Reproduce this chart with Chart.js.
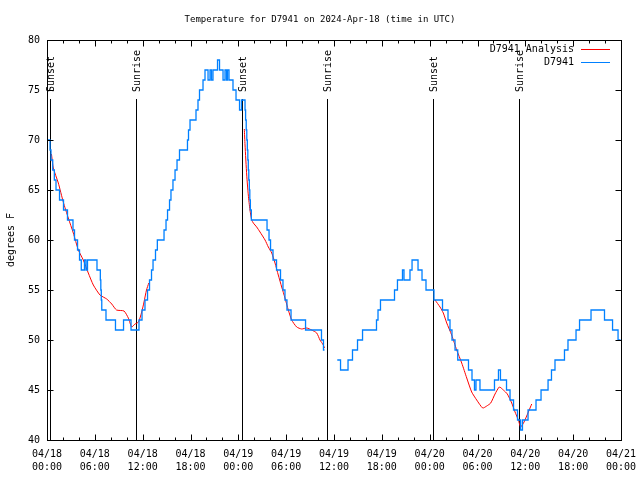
<!DOCTYPE html>
<html>
<head>
<meta charset="utf-8">
<title>Temperature for D7941</title>
<script src="https://cdn.jsdelivr.net/npm/chart.js@4.4.1/dist/chart.umd.min.js"></script>
<style>
    html, body { margin: 0; padding: 0; background: #fff; }
    #chart-temp { display: block; }
</style>
</head>
<body>
<canvas id="chart-temp" width="640" height="480"></canvas>
<script>
// All times are hours since 04/18 00:00 UTC
const stationHours = [
    0.00, 0.38, 0.50, 0.72, 0.92, 1.13, 1.57, 2.07, 2.57, 3.26, 3.45, 3.83, 4.08, 4.30, 4.70, 4.89, 5.08,
    6.27, 6.69, 6.75, 6.81, 6.87, 7.40, 8.59, 9.60, 10.54, 11.54, 11.92, 12.29, 12.61, 12.86, 13.11, 13.30,
    13.61, 13.84, 14.68, 14.93, 15.12, 15.37, 15.55, 15.80, 16.06, 16.31, 16.62, 17.62, 17.75, 17.94, 18.69,
    18.94, 19.13, 19.57, 19.82, 20.20, 20.45, 20.63, 20.82, 21.39, 21.64, 22.08, 22.33, 22.52, 22.64, 22.83,
    23.33, 23.71, 24.15, 24.40, 24.84, 24.91, 24.99, 25.06, 25.13, 25.19, 25.25, 25.31, 25.38, 25.44, 25.51,
    25.63, 27.60, 27.85, 28.04, 28.35, 28.79, 29.29, 29.60, 29.85, 30.10, 30.61, 32.43, 34.43, 34.68, 34.81,
    35.60,
    36.41, 36.82, 37.76, 38.32, 38.95, 39.58, 41.33, 41.52, 41.83, 43.59, 43.96, 44.59, 44.78, 45.53, 45.79,
    46.54, 47.04, 47.54, 48.54, 49.61, 50.30, 50.55, 50.80, 51.18, 51.52, 52.87, 53.31, 53.62, 53.81, 54.31,
    56.13, 56.63, 56.88, 57.64, 58.08, 58.52, 59.02, 59.40, 59.64, 60.34, 61.34, 61.97, 62.85, 63.28, 63.72,
    64.91, 65.35, 66.36, 66.80, 68.24, 69.93, 70.94, 71.63, 71.94
];
const stationTemps = [
    70, 69, 68, 67, 66, 65, 64, 63, 62, 61, 60, 59, 58, 57, 58, 57, 58,
    57, 56, 55, 54, 53, 52, 51, 52, 51, 52, 53, 54, 55, 56, 57, 58,
    59, 60, 61, 62, 63, 64, 65, 66, 67, 68, 69, 70, 71, 72, 73,
    74, 75, 76, 77, 76, 77, 76, 77, 78, 77, 76, 77, 76, 77, 76,
    75, 74, 73, 74, 73, 72, 71, 70, 69, 68, 67, 66, 65, 64, 63,
    62, 61, 60, 59, 58, 57, 56, 55, 54, 53, 52, 51, 50, 49, 49,
    null,
    48, 47, 48, 49, 50, 51, 52, 53, 54, 55, 56, 57, 56, 57, 58,
    57, 56, 55, 54, 53, 52, 51, 50, 49, 48, 47, 46, 45, 46, 45,
    46, 47, 46, 45, 44, 43, 42, 41, 42, 43, 44, 45, 46, 47, 48,
    49, 50, 51, 52, 53, 52, 51, 50, 50
];

const analysisHours = [
    0.56, 0.79, 1.42, 2.04, 2.67, 3.30, 3.93, 4.55, 5.18, 5.81, 6.65, 7.49, 8.12, 8.72, 9.66, 10.20,
    10.62, 11.04, 11.48, 11.88, 12.17, 12.48, 12.77,
    18.00,
    24.75, 24.84, 25.05, 25.25, 25.46, 25.68, 25.88, 26.30, 26.72, 27.35, 27.76, 28.19, 28.60, 29.01,
    29.44, 29.85, 30.27, 30.69, 31.32, 31.95, 32.58, 33.20, 33.83, 34.24, 34.66, 34.81,
    42.00,
    48.67, 49.30, 49.71, 50.14, 50.76, 51.39, 52.02, 52.65, 53.27, 53.90, 54.65, 55.16, 55.66, 56.20,
    56.74, 57.24, 57.74, 58.29, 58.71, 59.12, 59.42, 59.84, 60.38, 60.80
];
const analysisTemps = [
    68.6, 67.2, 65.7, 63.8, 62.2, 60.7, 59.0, 58.0, 56.7, 55.5, 54.5, 54.1, 53.6, 53.0, 52.9, 52.2,
    51.3, 51.6, 51.8, 52.8, 53.8, 55.0, 55.7,
    null,
    71.1, 69.5, 66.5, 64.5, 63.0, 62.0, 61.7, 61.3, 60.8, 60.0, 59.3, 58.7, 57.7, 56.5,
    55.3, 54.2, 53.0, 52.0, 51.3, 51.1, 51.2, 51.0, 50.7, 50.0, 49.5, 49.2,
    null,
    54.0, 53.3, 52.7, 51.7, 50.5, 49.0, 47.7, 46.2, 44.8, 44.0, 43.2, 43.4, 43.7, 44.6,
    45.3, 45.0, 44.6, 43.7, 42.8, 42.0, 41.3, 41.8, 42.8, 43.6
];

const sunEventHours = [0.41, 11.2, 24.5, 35.17, 48.47, 59.26];
const sunEventNames = ['Sunset', 'Sunrise', 'Sunset', 'Sunrise', 'Sunset', 'Sunrise'];

const dayLabels = ['04/18', '04/19', '04/20', '04/21'];
const hourLabels = ['00:00', '06:00', '12:00', '18:00'];

const FONT = 'DejaVu Sans Mono';
const toPoints = (hours, temps) => hours.map((h, i) => ({ x: h, y: temps[i] }));

// gnuplot look: full border, inward tics, sun markers and an inside key
const gnuplotFrame = {
    id: 'gnuplotFrame',
    beforeDatasetsDraw(chart) {
        const { ctx, chartArea: a, scales: { x } } = chart;
        ctx.save();
        ctx.strokeStyle = '#000';
        ctx.lineWidth = 1;
        sunEventHours.forEach(h => {
            const px = Math.round(x.getPixelForValue(h)) + 0.5;
            ctx.beginPath();
            ctx.moveTo(px, a.top + 59);
            ctx.lineTo(px, a.bottom);
            ctx.stroke();
        });
        ctx.restore();
    },
    afterDatasetsDraw(chart) {
        const { ctx, chartArea: a, scales: { x, y } } = chart;
        const left = Math.round(a.left) + 0.5, right = Math.round(a.right) + 0.5;
        const top = Math.round(a.top) + 0.5, bottom = Math.round(a.bottom) + 0.5;
        ctx.save();
        ctx.strokeStyle = '#000';
        ctx.lineWidth = 1;
        ctx.strokeRect(left, top, right - left, bottom - top);

        ctx.beginPath();
        for (let h = 0; h <= 72; h += 2) {
            const px = Math.round(x.getPixelForValue(h)) + 0.5;
            const len = h % 6 === 0 ? 6 : 3;
            ctx.moveTo(px, bottom); ctx.lineTo(px, bottom - len);
            ctx.moveTo(px, top); ctx.lineTo(px, top + len);
        }
        for (let t = 40; t <= 80; t += 5) {
            const py = Math.round(y.getPixelForValue(t)) + 0.5;
            ctx.moveTo(left, py); ctx.lineTo(left + 6, py);
            ctx.moveTo(right, py); ctx.lineTo(right - 6, py);
        }
        ctx.stroke();

        ctx.fillStyle = '#000';
        ctx.font = '10px "' + FONT + '"';
        ctx.textBaseline = 'middle';
        ctx.textAlign = 'left';
        sunEventHours.forEach((h, i) => {
            const px = Math.round(x.getPixelForValue(h)) + 1.5;
            ctx.save();
            ctx.translate(px, a.top + 52);
            ctx.rotate(-Math.PI / 2);
            ctx.fillText(sunEventNames[i], 0, 0);
            ctx.restore();
        });

        // key
        ctx.textAlign = 'right';
        chart.data.datasets.forEach((ds, i) => {
            const ky = Math.round(a.top + 9 + i * 13) + 0.5;
            ctx.fillStyle = '#000';
            ctx.fillText(ds.label, a.right - 47, ky);
            ctx.strokeStyle = ds.borderColor;
            ctx.lineWidth = 1;
            ctx.beginPath();
            ctx.moveTo(a.right - 40, ky);
            ctx.lineTo(a.right - 11, ky);
            ctx.stroke();
        });
        ctx.restore();
    }
};

document.addEventListener('DOMContentLoaded', () => {
    Chart.defaults.font.family = FONT;
    Chart.defaults.font.size = 10;
    Chart.defaults.color = '#000';

    const ctxTemp = document.getElementById('chart-temp');
    new Chart(ctxTemp, {
        type: 'line',
        data: {
            datasets: [{
                label: 'D7941 Analysis',
                data: toPoints(analysisHours, analysisTemps),
                borderColor: '#ff0000',
                borderWidth: 1,
                tension: 0.2,
                pointRadius: 0,
                spanGaps: false,
                order: 2
            }, {
                label: 'D7941',
                data: toPoints(stationHours, stationTemps),
                borderColor: '#0080ff',
                borderWidth: 1.3,
                stepped: 'before',
                pointRadius: 0,
                spanGaps: false,
                order: 1
            }]
        },
        options: {
            responsive: false,
            animation: false,
            devicePixelRatio: 1,
            plugins: {
                legend: { display: false },
                tooltip: { enabled: false },
                title: {
                    display: true,
                    text: 'Temperature for D7941 on 2024-Apr-18 (time in UTC)',
                    font: { family: FONT, size: 9, weight: 'normal', lineHeight: 1.2 },
                    color: '#000',
                    padding: { top: 14.6, bottom: 14.6 }
                }
            },
            scales: {
                x: {
                    type: 'linear',
                    min: 0,
                    max: 72,
                    grid: { display: false, drawTicks: false },
                    border: { display: false },
                    afterFit: scale => {
                        scale.height = 40;
                        scale.paddingLeft = 0;
                        scale.paddingRight = 19;
                    },
                    ticks: {
                        stepSize: 6,
                        autoSkip: false,
                        maxRotation: 0,
                        minRotation: 0,
                        padding: 7.5,
                        font: { lineHeight: 1.3 },
                        callback: v => [dayLabels[Math.floor(v / 24)], hourLabels[(v % 24) / 6]]
                    }
                },
                y: {
                    min: 40,
                    max: 80,
                    grid: { display: false, drawTicks: false },
                    border: { display: false },
                    afterFit: scale => { scale.width = 47; },
                    title: {
                        display: true,
                        text: 'degrees F',
                        font: { lineHeight: 1.3 },
                        padding: { top: 4.5, bottom: 0 }
                    },
                    ticks: { stepSize: 5, padding: 7 }
                }
            }
        },
        plugins: [gnuplotFrame]
    });
});
</script>
</body>
</html>
